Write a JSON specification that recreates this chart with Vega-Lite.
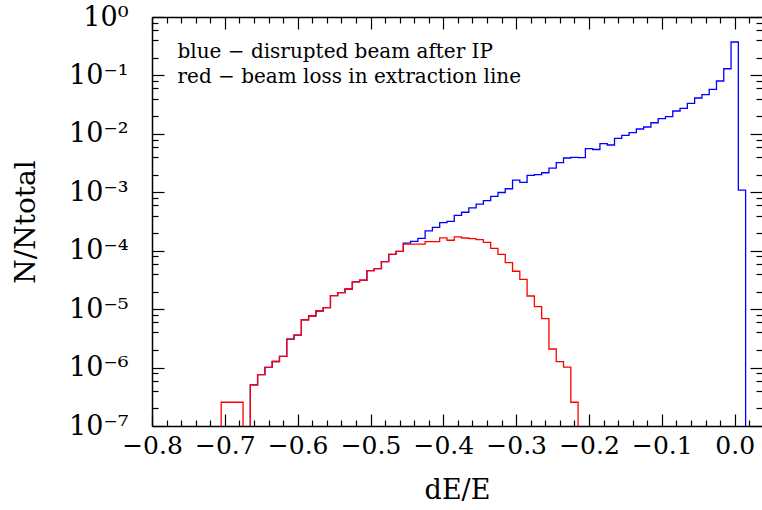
{
  "$schema": "https://vega.github.io/schema/vega-lite/v6.json",
  "autosize": {"type": "none"},
  "padding": {"left": 152, "top": 17, "right": 0, "bottom": 84},
  "width": 610,
  "height": 409,
  "background": "white",
  "config": {
    "view": {"stroke": null},
    "font": "DejaVu Serif",
    "axis": {
      "grid": false,
      "domainColor": "black",
      "domainWidth": 1.5,
      "tickColor": "black",
      "tickWidth": 1.2,
      "labelColor": "black",
      "titleColor": "black",
      "labelFont": "DejaVu Serif",
      "titleFont": "DejaVu Serif",
      "titleFontWeight": "normal"
    }
  },
  "datasets": {
    "hist": [
      {"beam": "blue", "dE": -0.67, "frac": 1e-9},
      {"beam": "blue", "dE": -0.66, "frac": 5.04e-7},
      {"beam": "blue", "dE": -0.65, "frac": 7.6e-7},
      {"beam": "blue", "dE": -0.64, "frac": 1.01e-6},
      {"beam": "blue", "dE": -0.63, "frac": 1.27e-6},
      {"beam": "blue", "dE": -0.62, "frac": 1.55e-6},
      {"beam": "blue", "dE": -0.61, "frac": 3.06e-6},
      {"beam": "blue", "dE": -0.60, "frac": 3.58e-6},
      {"beam": "blue", "dE": -0.59, "frac": 6.59e-6},
      {"beam": "blue", "dE": -0.58, "frac": 7.63e-6},
      {"beam": "blue", "dE": -0.57, "frac": 9.29e-6},
      {"beam": "blue", "dE": -0.56, "frac": 1.06e-5},
      {"beam": "blue", "dE": -0.55, "frac": 1.71e-5},
      {"beam": "blue", "dE": -0.54, "frac": 1.91e-5},
      {"beam": "blue", "dE": -0.53, "frac": 2.21e-5},
      {"beam": "blue", "dE": -0.52, "frac": 2.94e-5},
      {"beam": "blue", "dE": -0.51, "frac": 3.12e-5},
      {"beam": "blue", "dE": -0.50, "frac": 4.55e-5},
      {"beam": "blue", "dE": -0.49, "frac": 4.92e-5},
      {"beam": "blue", "dE": -0.48, "frac": 6.49e-5},
      {"beam": "blue", "dE": -0.47, "frac": 8.69e-5},
      {"beam": "blue", "dE": -0.46, "frac": 9.77e-5},
      {"beam": "blue", "dE": -0.45, "frac": 1.35e-4},
      {"beam": "blue", "dE": -0.44, "frac": 1.44e-4},
      {"beam": "blue", "dE": -0.43, "frac": 1.63e-4},
      {"beam": "blue", "dE": -0.42, "frac": 2.18e-4},
      {"beam": "blue", "dE": -0.41, "frac": 2.50e-4},
      {"beam": "blue", "dE": -0.40, "frac": 3.02e-4},
      {"beam": "blue", "dE": -0.39, "frac": 3.19e-4},
      {"beam": "blue", "dE": -0.38, "frac": 4.01e-4},
      {"beam": "blue", "dE": -0.37, "frac": 4.55e-4},
      {"beam": "blue", "dE": -0.36, "frac": 5.43e-4},
      {"beam": "blue", "dE": -0.35, "frac": 6.25e-4},
      {"beam": "blue", "dE": -0.34, "frac": 7.18e-4},
      {"beam": "blue", "dE": -0.33, "frac": 8.48e-4},
      {"beam": "blue", "dE": -0.32, "frac": 9.91e-4},
      {"beam": "blue", "dE": -0.31, "frac": 1.15e-3},
      {"beam": "blue", "dE": -0.30, "frac": 1.61e-3},
      {"beam": "blue", "dE": -0.29, "frac": 1.48e-3},
      {"beam": "blue", "dE": -0.28, "frac": 1.95e-3},
      {"beam": "blue", "dE": -0.27, "frac": 2.00e-3},
      {"beam": "blue", "dE": -0.26, "frac": 2.16e-3},
      {"beam": "blue", "dE": -0.25, "frac": 2.60e-3},
      {"beam": "blue", "dE": -0.24, "frac": 3.21e-3},
      {"beam": "blue", "dE": -0.23, "frac": 3.86e-3},
      {"beam": "blue", "dE": -0.22, "frac": 3.97e-3},
      {"beam": "blue", "dE": -0.21, "frac": 3.91e-3},
      {"beam": "blue", "dE": -0.20, "frac": 5.61e-3},
      {"beam": "blue", "dE": -0.19, "frac": 5.40e-3},
      {"beam": "blue", "dE": -0.18, "frac": 6.79e-3},
      {"beam": "blue", "dE": -0.17, "frac": 6.45e-3},
      {"beam": "blue", "dE": -0.16, "frac": 8.39e-3},
      {"beam": "blue", "dE": -0.15, "frac": 9.45e-3},
      {"beam": "blue", "dE": -0.14, "frac": 1.05e-2},
      {"beam": "blue", "dE": -0.13, "frac": 1.21e-2},
      {"beam": "blue", "dE": -0.12, "frac": 1.31e-2},
      {"beam": "blue", "dE": -0.11, "frac": 1.55e-2},
      {"beam": "blue", "dE": -0.10, "frac": 1.82e-2},
      {"beam": "blue", "dE": -0.09, "frac": 1.97e-2},
      {"beam": "blue", "dE": -0.08, "frac": 2.46e-2},
      {"beam": "blue", "dE": -0.07, "frac": 2.74e-2},
      {"beam": "blue", "dE": -0.06, "frac": 3.33e-2},
      {"beam": "blue", "dE": -0.05, "frac": 4.11e-2},
      {"beam": "blue", "dE": -0.04, "frac": 4.68e-2},
      {"beam": "blue", "dE": -0.03, "frac": 5.79e-2},
      {"beam": "blue", "dE": -0.02, "frac": 8.03e-2},
      {"beam": "blue", "dE": -0.01, "frac": 0.130},
      {"beam": "blue", "dE": 0.00, "frac": 0.373},
      {"beam": "blue", "dE": 0.01, "frac": 1.09e-3},
      {"beam": "blue", "dE": 0.02, "frac": 1e-9},
      {"beam": "red", "dE": -0.71, "frac": 1e-9},
      {"beam": "red", "dE": -0.70, "frac": 2.55e-7},
      {"beam": "red", "dE": -0.69, "frac": 2.55e-7},
      {"beam": "red", "dE": -0.68, "frac": 2.55e-7},
      {"beam": "red", "dE": -0.67, "frac": 1e-9},
      {"beam": "red", "dE": -0.66, "frac": 5.04e-7},
      {"beam": "red", "dE": -0.65, "frac": 7.6e-7},
      {"beam": "red", "dE": -0.64, "frac": 1.01e-6},
      {"beam": "red", "dE": -0.63, "frac": 1.27e-6},
      {"beam": "red", "dE": -0.62, "frac": 1.55e-6},
      {"beam": "red", "dE": -0.61, "frac": 3.06e-6},
      {"beam": "red", "dE": -0.60, "frac": 3.58e-6},
      {"beam": "red", "dE": -0.59, "frac": 6.59e-6},
      {"beam": "red", "dE": -0.58, "frac": 7.63e-6},
      {"beam": "red", "dE": -0.57, "frac": 9.29e-6},
      {"beam": "red", "dE": -0.56, "frac": 1.06e-5},
      {"beam": "red", "dE": -0.55, "frac": 1.71e-5},
      {"beam": "red", "dE": -0.54, "frac": 1.91e-5},
      {"beam": "red", "dE": -0.53, "frac": 2.21e-5},
      {"beam": "red", "dE": -0.52, "frac": 2.94e-5},
      {"beam": "red", "dE": -0.51, "frac": 3.12e-5},
      {"beam": "red", "dE": -0.50, "frac": 4.55e-5},
      {"beam": "red", "dE": -0.49, "frac": 4.92e-5},
      {"beam": "red", "dE": -0.48, "frac": 6.49e-5},
      {"beam": "red", "dE": -0.47, "frac": 8.69e-5},
      {"beam": "red", "dE": -0.46, "frac": 9.77e-5},
      {"beam": "red", "dE": -0.45, "frac": 1.30e-4},
      {"beam": "red", "dE": -0.44, "frac": 1.30e-4},
      {"beam": "red", "dE": -0.43, "frac": 1.30e-4},
      {"beam": "red", "dE": -0.42, "frac": 1.43e-4},
      {"beam": "red", "dE": -0.41, "frac": 1.43e-4},
      {"beam": "red", "dE": -0.40, "frac": 1.66e-4},
      {"beam": "red", "dE": -0.39, "frac": 1.51e-4},
      {"beam": "red", "dE": -0.38, "frac": 1.72e-4},
      {"beam": "red", "dE": -0.37, "frac": 1.65e-4},
      {"beam": "red", "dE": -0.36, "frac": 1.61e-4},
      {"beam": "red", "dE": -0.35, "frac": 1.55e-4},
      {"beam": "red", "dE": -0.34, "frac": 1.39e-4},
      {"beam": "red", "dE": -0.33, "frac": 1.10e-4},
      {"beam": "red", "dE": -0.32, "frac": 8.69e-5},
      {"beam": "red", "dE": -0.31, "frac": 6.24e-5},
      {"beam": "red", "dE": -0.30, "frac": 4.45e-5},
      {"beam": "red", "dE": -0.29, "frac": 3.24e-5},
      {"beam": "red", "dE": -0.28, "frac": 1.68e-5},
      {"beam": "red", "dE": -0.27, "frac": 1.10e-5},
      {"beam": "red", "dE": -0.26, "frac": 6.87e-6},
      {"beam": "red", "dE": -0.25, "frac": 2.08e-6},
      {"beam": "red", "dE": -0.24, "frac": 1.26e-6},
      {"beam": "red", "dE": -0.23, "frac": 1.02e-6},
      {"beam": "red", "dE": -0.22, "frac": 2.55e-7},
      {"beam": "red", "dE": -0.21, "frac": 1e-9}
    ],
    "notes": [
      {"x": -0.765, "y": 0.25, "t": "blue − disrupted beam after IP"},
      {"x": -0.765, "y": 0.093, "t": "red − beam loss in extraction line"}
    ]
  },
  "layer": [
    {
      "data": {"name": "hist"},
      "mark": {"type": "line", "interpolate": "step", "clip": true, "strokeWidth": 1.3},
      "encoding": {
        "x": {
          "field": "dE", "type": "quantitative",
          "scale": {"domain": [-0.8, 0.0375], "nice": false, "zero": false},
          "axis": {
            "orient": "bottom",
            "values": [-0.8, -0.7, -0.6, -0.5, -0.4, -0.3, -0.2, -0.1, 0.0],
            "format": ".1f",
            "tickSize": -12,
            "labelPadding": 19,
            "labelFontSize": 25,
            "labelFlush": false,
            "labelOverlap": false,
            "title": "dE/E",
            "titleFontSize": 27,
            "titlePadding": 19
          }
        },
        "y": {
          "field": "frac", "type": "quantitative",
          "scale": {"type": "log", "domain": [1e-7, 1], "nice": false},
          "axis": {
            "orient": "left",
            "values": [1e-7, 1e-6, 1e-5, 1e-4, 1e-3, 1e-2, 1e-1, 1],
            "labelExpr": "datum.value >= 0.99 ? '10⁰' : '10⁻' + ['⁰','¹','²','³','⁴','⁵','⁶','⁷'][round(-log(datum.value)/LN10)]",
            "tickSize": -12,
            "labelPadding": 36,
            "labelFontSize": 27,
            "labelFlush": false,
            "labelOverlap": false,
            "title": "N/Ntotal",
            "titleFontSize": 28,
            "titlePadding": 28
          }
        },
        "color": {
          "field": "beam", "type": "nominal",
          "scale": {"domain": ["blue", "red"], "range": ["#0000ff", "#ff0000"]},
          "legend": null
        }
      }
    },
    {
      "data": {"name": "hist"},
      "mark": {"type": "point", "opacity": 0, "clip": true},
      "encoding": {
        "x": {
          "field": "dE", "type": "quantitative",
          "axis": {
            "orient": "bottom",
            "values": [-0.78, -0.76, -0.74, -0.72, -0.68, -0.66, -0.64, -0.62, -0.58, -0.56, -0.54, -0.52, -0.48, -0.46, -0.44, -0.42, -0.38, -0.36, -0.34, -0.32, -0.28, -0.26, -0.24, -0.22, -0.18, -0.16, -0.14, -0.12, -0.08, -0.06, -0.04, -0.02, 0.02],
            "tickSize": -6, "labels": false, "domain": false, "title": null
          }
        },
        "y": {
          "field": "frac", "type": "quantitative",
          "axis": {
            "orient": "left",
            "values": [2e-7, 4e-7, 6e-7, 8e-7, 2e-6, 4e-6, 6e-6, 8e-6, 2e-5, 4e-5, 6e-5, 8e-5, 2e-4, 4e-4, 6e-4, 8e-4, 2e-3, 4e-3, 6e-3, 8e-3, 2e-2, 4e-2, 6e-2, 8e-2, 0.2, 0.4, 0.6, 0.8],
            "tickSize": -6, "labels": false, "domain": false, "title": null
          }
        }
      }
    },
    {
      "data": {"name": "hist"},
      "mark": {"type": "point", "opacity": 0, "clip": true},
      "encoding": {
        "x": {
          "field": "dE", "type": "quantitative",
          "axis": {
            "orient": "top",
            "values": [-0.8, -0.7, -0.6, -0.5, -0.4, -0.3, -0.2, -0.1, 0.0],
            "tickSize": -12, "labels": false, "domain": true, "title": null
          }
        },
        "y": {
          "field": "frac", "type": "quantitative",
          "axis": {
            "orient": "right",
            "values": [1e-7, 1e-6, 1e-5, 1e-4, 1e-3, 1e-2, 1e-1, 1],
            "tickSize": -12, "labels": false, "domain": false, "title": null
          }
        }
      }
    },
    {
      "data": {"name": "hist"},
      "mark": {"type": "point", "opacity": 0, "clip": true},
      "encoding": {
        "x": {
          "field": "dE", "type": "quantitative",
          "axis": {
            "orient": "top",
            "values": [-0.78, -0.76, -0.74, -0.72, -0.68, -0.66, -0.64, -0.62, -0.58, -0.56, -0.54, -0.52, -0.48, -0.46, -0.44, -0.42, -0.38, -0.36, -0.34, -0.32, -0.28, -0.26, -0.24, -0.22, -0.18, -0.16, -0.14, -0.12, -0.08, -0.06, -0.04, -0.02, 0.02],
            "tickSize": -6, "labels": false, "domain": false, "title": null
          }
        },
        "y": {
          "field": "frac", "type": "quantitative",
          "axis": {
            "orient": "right",
            "values": [2e-7, 4e-7, 6e-7, 8e-7, 2e-6, 4e-6, 6e-6, 8e-6, 2e-5, 4e-5, 6e-5, 8e-5, 2e-4, 4e-4, 6e-4, 8e-4, 2e-3, 4e-3, 6e-3, 8e-3, 2e-2, 4e-2, 6e-2, 8e-2, 0.2, 0.4, 0.6, 0.8],
            "tickSize": -6, "labels": false, "domain": false, "title": null
          }
        }
      }
    },
    {
      "data": {"name": "notes"},
      "mark": {"type": "text", "align": "left", "baseline": "middle", "font": "DejaVu Serif", "fontSize": 20, "color": "black"},
      "encoding": {
        "x": {"field": "x", "type": "quantitative", "axis": null},
        "y": {"field": "y", "type": "quantitative", "axis": null},
        "text": {"field": "t", "type": "nominal"}
      }
    }
  ],
  "resolve": {"axis": {"x": "independent", "y": "independent"}}
}
